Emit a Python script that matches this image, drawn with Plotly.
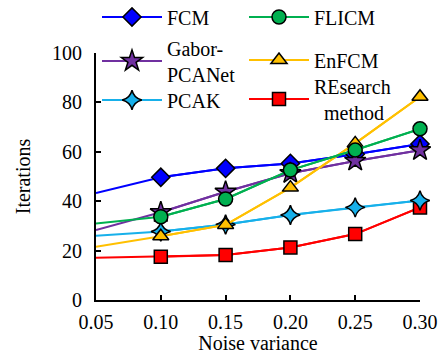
import plotly.graph_objects as go

noise = [0.05, 0.10, 0.15, 0.20, 0.25, 0.30]
x_ticks = [0.05, 0.10, 0.15, 0.20, 0.25, 0.30]
x_tick_labels = ["0.05", "0.10", "0.15", "0.20", "0.25", "0.30"]
y_ticks = [0, 20, 40, 60, 80, 100]

fcm = [43.3, 49.7, 53.3, 55.3, 59.0, 63.2]
flicm = [31.0, 33.7, 40.9, 52.6, 60.7, 69.3]
gabor = [28.3, 35.5, 43.8, 51.3, 56.3, 60.6]
enfcm = [21.6, 25.8, 30.4, 45.5, 63.4, 82.3]
pcak = [26.0, 27.7, 30.6, 34.4, 37.5, 40.3]
research = [17.1, 17.5, 18.2, 21.3, 26.7, 37.5]

FONT = "'Liberation Serif', 'Times New Roman', serif"
FS = 20

# (name, data, color, symbol, size, legend id)
series = [
    ("REsearch<br>&nbsp;&nbsp;method", research, "#ff0000", "square", 13, "legend6"),
    ("PCAK", pcak, "#17b0ea", "star-diamond", 14, "legend5"),
    ("FCM", fcm, "#0000ff", "diamond", 14, "legend"),
    ("Gabor-<br>PCANet", gabor, "#7030a0", "star", 16, "legend3"),
    ("EnFCM", enfcm, "#ffc000", "triangle-up", 14, "legend4"),
    ("FLICM", flicm, "#00b050", "circle", 14, "legend2"),
]

fig = go.Figure()
for name, vals, color, sym, size, leg in series:
    # full line from the first point (no marker on the first point)
    fig.add_trace(go.Scatter(
        x=noise, y=vals, mode="lines", line=dict(color=color, width=2),
        showlegend=False, hoverinfo="skip", cliponaxis=False))
    fig.add_trace(go.Scatter(
        x=noise[1:], y=vals[1:], mode="lines+markers", name=name,
        line=dict(color=color, width=2),
        marker=dict(symbol=sym, size=size, color=color,
                    line=dict(color="black", width=1.5)),
        legend=leg, cliponaxis=False))

W, H = 442, 354
L, R, T, B = 96, 22, 53, 54
pw, ph = W - L - R, H - T - B


def px_x(px):
    return (px - L) / pw


def px_y(py):
    return (H - B - py) / ph


legend_common = dict(bgcolor="rgba(0,0,0,0)", borderwidth=0,
                     font=dict(family=FONT, size=FS, color="black"),
                     itemwidth=60, yanchor="middle", xanchor="left",
                     valign="middle")

legends = {
    "legend": (97, 17),
    "legend2": (244, 17),
    "legend3": (97, 61),
    "legend4": (244, 60),
    "legend5": (97, 100),
    "legend6": (244, 99),
}
layout_leg = {}
for k, (lx, ly) in legends.items():
    layout_leg[k] = dict(x=px_x(lx), y=px_y(ly), **legend_common)

fig.update_layout(
    width=W, height=H,
    margin=dict(l=L, r=R, t=T, b=B, autoexpand=False),
    paper_bgcolor="white", plot_bgcolor="white",
    font=dict(family=FONT, size=FS, color="black"),
    xaxis=dict(range=[0.05, 0.30], tickvals=x_ticks, ticktext=x_tick_labels,
               ticks="inside", ticklen=5, tickwidth=2, tickcolor="black",
               showline=True, linecolor="black", linewidth=2,
               showgrid=False, zeroline=False, ticklabelstandoff=3,
               title=dict(text="Noise variance", standoff=2,
                          font=dict(family=FONT, size=FS)),
               tickfont=dict(family=FONT, size=FS)),
    yaxis=dict(range=[0, 100], tickvals=y_ticks,
               ticks="inside", ticklen=5, tickwidth=2, tickcolor="black",
               showline=True, linecolor="black", linewidth=2,
               showgrid=False, zeroline=False, ticklabelstandoff=8,
               title=dict(text="Iterations", standoff=16,
                          font=dict(family=FONT, size=FS)),
               tickfont=dict(family=FONT, size=FS)),
    **layout_leg,
)

fig.write_html(
    "out.html",
    config={"displayModeBar": False},
    post_script=("document.body.style.margin='0';"
                 "document.body.style.overflow='hidden';"
                 "document.documentElement.style.overflow='hidden';"),
)
